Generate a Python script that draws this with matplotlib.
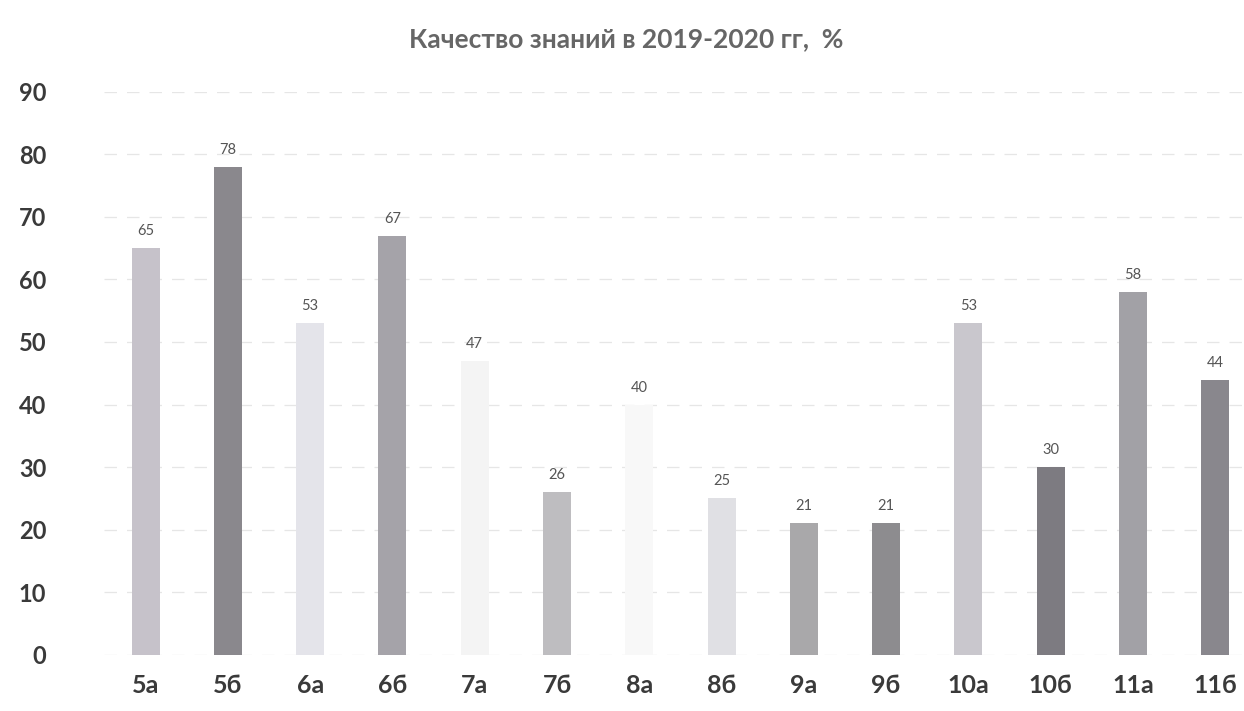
import matplotlib.pyplot as plt

plt.rcParams['font.family'] = ['Lato', 'Noto Sans', 'DejaVu Sans']

# данные
classes = ["5а", "5б", "6а", "6б", "7а", "7б", "8а", "8б", "9а", "9б", "10а", "10б", "11а", "11б"]
quality = [65, 78, 53, 67, 47, 26, 40, 25, 21, 21, 53, 30, 58, 44]
bar_colors = ["#c6c2ca", "#8a888d", "#e4e4ea", "#a5a3a9", "#f4f4f4", "#bebdc0",
              "#f8f8f8", "#e0e0e4", "#a9a8aa", "#8d8c8f", "#c9c7cd", "#7d7b81",
              "#a2a1a6", "#89878d"]
y_ticks = list(range(0, 100, 10))

fig = plt.figure(figsize=(12.44, 7.11), dpi=100)
ax = fig.add_axes([0.084, 0.079, 0.916, 0.792])

x = range(len(classes))
bars = ax.bar(x, quality, width=0.34, color=bar_colors, zorder=2)

for b, v in zip(bars, quality):
    ax.text(b.get_x() + b.get_width() / 2, v + 1.6, str(v), ha='center', va='bottom',
            fontsize=10.5, color='#555555', zorder=3)

ax.set_xlim(-0.5, 13.35)
ax.set_ylim(0, 90)
ax.set_yticks(y_ticks)
ax.set_xticks(list(x))
ax.set_xticklabels(classes)

ax.grid(axis='y', color='#e6e6e6', linestyle=(0, (10, 8)), lw=0.9, zorder=0)
for s in ax.spines.values():
    s.set_visible(False)
ax.tick_params(axis='both', length=0)
ax.tick_params(axis='y', pad=42, labelsize=17, labelcolor='#3a3a3a')
ax.tick_params(axis='x', pad=14, labelsize=18, labelcolor='#3a3a3a')
for lbl in ax.get_yticklabels() + ax.get_xticklabels():
    lbl.set_fontweight('bold')

fig.text(0.503, 0.945, "Качество знаний в 2019-2020 гг,  %", ha='center', va='center',
         fontsize=19, fontweight='bold', color='#666666')

fig.savefig("out.png", dpi=100)
